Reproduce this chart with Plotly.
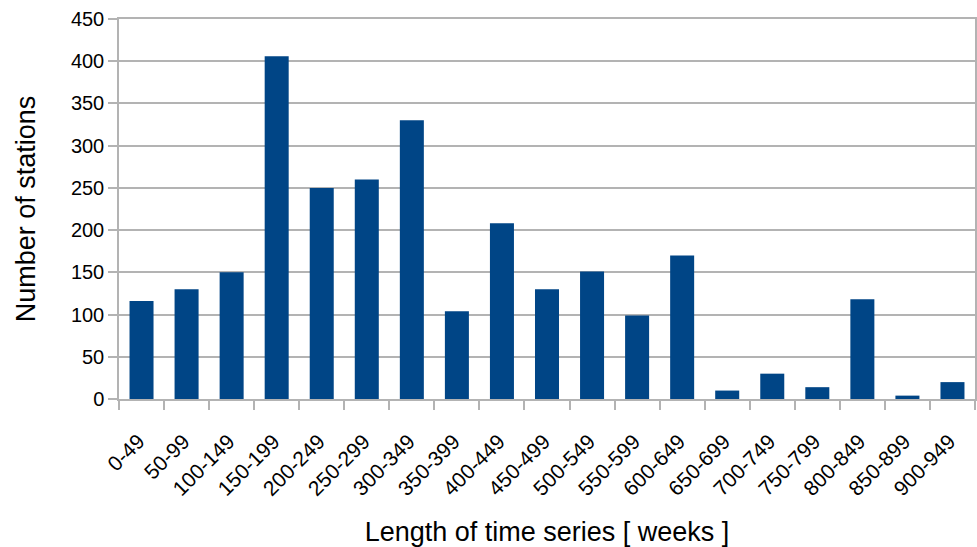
import plotly.graph_objects as go

categories = ["0-49", "50-99", "100-149", "150-199", "200-249", "250-299", "300-349",
              "350-399", "400-449", "450-499", "500-549", "550-599", "600-649",
              "650-699", "700-749", "750-799", "800-849", "850-899", "900-949"]
stations = [116, 130, 150, 406, 250, 260, 330, 104, 208, 130, 151, 99, 170,
            10, 30, 14, 118, 4, 20]

y_ticks = list(range(0, 451, 50))

fig = go.Figure(go.Bar(x=categories, y=stations, marker_color="#004586",
                       marker_line_width=0))

grid = "#b3b3b3"
fig.update_layout(
    width=977, height=547,
    margin=dict(l=119, r=2, t=19, b=148, autoexpand=False),
    plot_bgcolor="white", paper_bgcolor="white",
    bargap=0.467,
    showlegend=False,
    font=dict(family="Liberation Sans, Arial, sans-serif", color="black"),
)
fig.update_xaxes(
    type="category", tickangle=-45, tickfont=dict(size=21),
    ticks="outside", tickson="boundaries", ticklen=9, tickcolor=grid, tickwidth=1.5,
    ticklabelstandoff=20, ticklabelshift=-3,
    showline=True, linecolor=grid, linewidth=1.5, mirror=True,
    showgrid=False,
    title=dict(text="Length of time series [ weeks ]", font=dict(size=27), standoff=25),
)
fig.update_yaxes(
    range=[0, 450], tickvals=y_ticks, tickfont=dict(size=20),
    ticks="outside", ticklen=9, tickcolor=grid, tickwidth=1.5,
    showline=True, linecolor=grid, linewidth=1.5, mirror=True,
    showgrid=True, gridcolor=grid, gridwidth=1.5, zeroline=False,
    title=dict(text="Number of stations", font=dict(size=27), standoff=27),
)

fig.write_html("out.html", config={"displayModeBar": False},
               post_script="document.body.style.margin='0';document.body.style.overflow='hidden';")
